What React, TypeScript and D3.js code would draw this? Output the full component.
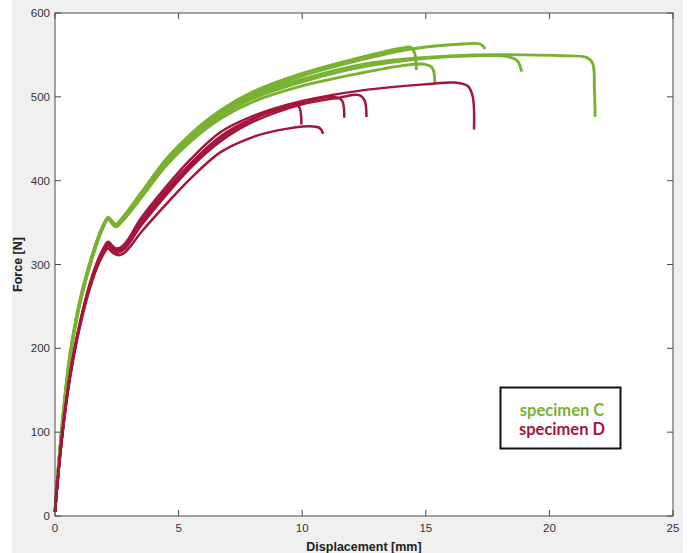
import React from 'react'
import * as d3 from 'd3'

// displacement [mm], force [N]
const specimenC: [number, number][][] = [
  [[0, 5], [0.1, 45], [0.3, 112], [0.6, 190], [1.0, 255], [1.5, 310], [1.9, 343], [2.15, 356], [2.3, 351], [2.45, 347], [2.7, 354], [3.5, 386], [4.5, 426], [5.5, 456], [6.7, 484], [8, 506], [10, 528], [12.5, 548], [14, 558], [14.4, 559], [14.55, 552], [14.62, 532]],
  [[0, 5], [0.1, 46], [0.3, 114], [0.6, 192], [1.0, 257], [1.5, 311], [1.9, 344], [2.15, 356], [2.3, 352], [2.45, 348], [2.7, 355], [3.5, 386], [4.5, 425], [5.5, 454], [6.7, 482], [8, 503], [10, 525], [12.5, 545], [14, 555], [15.5, 561], [16.5, 563], [17.2, 563], [17.4, 557]],
  [[0, 5], [0.1, 44], [0.3, 110], [0.6, 187], [1.0, 252], [1.5, 307], [1.9, 341], [2.15, 354], [2.3, 349], [2.45, 345], [2.7, 351], [3.5, 380], [4.5, 418], [5.5, 447], [6.7, 474], [8, 494], [10, 513], [12.5, 529], [14, 537], [14.9, 539], [15.25, 535], [15.37, 516]],
  [[0, 5], [0.1, 45], [0.3, 111], [0.6, 188], [1.0, 253], [1.5, 308], [1.9, 342], [2.15, 355], [2.3, 350], [2.45, 346], [2.7, 352], [3.5, 383], [4.5, 421], [5.5, 450], [6.7, 477], [8, 498], [10, 518], [12.5, 536], [15, 546], [17, 549], [18.3, 548], [18.7, 543], [18.88, 530]],
  [[0, 5], [0.1, 45], [0.3, 111], [0.6, 189], [1.0, 254], [1.5, 309], [1.9, 342], [2.15, 355], [2.3, 350], [2.45, 346], [2.7, 353], [3.5, 384], [4.5, 423], [5.5, 452], [6.7, 480], [8, 501], [10, 521], [12.5, 539], [15, 547], [17, 550], [19, 550], [20.5, 549], [21.5, 547], [21.75, 540], [21.82, 510], [21.85, 476]],
]

const specimenD: [number, number][][] = [
  [[0, 5], [0.1, 40], [0.3, 100], [0.6, 168], [1.0, 230], [1.5, 286], [1.9, 316], [2.15, 327], [2.3, 323], [2.5, 319], [2.8, 324], [3.5, 356], [4.5, 393], [5.5, 426], [6.7, 458], [8, 477], [10, 495], [12.5, 508], [15, 515], [16.2, 517], [16.7, 513], [16.9, 500], [16.95, 461]],
  [[0, 5], [0.1, 40], [0.3, 99], [0.6, 166], [1.0, 228], [1.5, 284], [1.9, 314], [2.15, 324], [2.3, 320], [2.5, 315], [2.8, 319], [3.5, 347], [4.5, 383], [5.5, 416], [6.7, 447], [8, 470], [10, 491], [11.5, 499], [12.3, 502], [12.52, 496], [12.6, 476]],
  [[0, 5], [0.1, 40], [0.3, 99], [0.6, 166], [1.0, 228], [1.5, 284], [1.9, 314], [2.15, 325], [2.3, 321], [2.5, 317], [2.8, 322], [3.5, 352], [4.5, 389], [5.5, 421], [6.7, 453], [8, 474], [10, 493], [11.2, 500], [11.6, 496], [11.7, 475]],
  [[0, 5], [0.1, 39], [0.3, 98], [0.6, 165], [1.0, 227], [1.5, 282], [1.9, 312], [2.15, 322], [2.3, 318], [2.5, 314], [2.8, 318], [3.5, 349], [4.5, 386], [5.5, 418], [6.7, 450], [8, 473], [9.5, 491], [9.85, 489], [9.97, 467]],
  [[0, 5], [0.1, 39], [0.3, 97], [0.6, 163], [1.0, 225], [1.5, 280], [1.9, 309], [2.15, 319], [2.3, 315], [2.55, 311], [2.85, 315], [3.5, 339], [4.5, 372], [5.5, 403], [6.7, 434], [8, 452], [9, 460], [10.3, 465], [10.7, 463], [10.85, 456]],
]

const xTicks = [0, 5, 10, 15, 20, 25]
const yTicks = [0, 100, 200, 300, 400, 500, 600]
const legendLabels = ['specimen C', 'specimen D']

const GREEN = '#79b131'
const RED = '#a5153b'

export default function App() {
  const left = 55, right = 673, top = 13, bottom = 516
  const x = d3.scaleLinear().domain([0, 25]).range([left, right])
  const y = d3.scaleLinear().domain([0, 600]).range([bottom, top])
  const line = d3.line<[number, number]>()
    .x(d => x(d[0]))
    .y(d => y(d[1]))
    .curve(d3.curveCatmullRom.alpha(0.5))

  const axisColor = '#4a4a4a'
  const tickFont = 'Liberation Sans, Arial, sans-serif'

  return (
    <svg width={688} height={553} style={{ position: 'absolute', left: 0, top: 0 }}>
      <rect x={0} y={0} width={688} height={553} fill="#fff" />
      <rect x={12} y={0} width={671} height={553} fill="#f0f0f0" />
      <rect x={left} y={top} width={right - left} height={bottom - top} fill="#fff" />

      {specimenC.map((d, i) => (
        <path key={'c' + i} d={line(d) || ''} fill="none" stroke={GREEN} strokeWidth={2.9} strokeLinejoin="round" />
      ))}
      {specimenD.map((d, i) => (
        <path key={'d' + i} d={line(d) || ''} fill="none" stroke={RED} strokeWidth={2.5} strokeLinejoin="round" />
      ))}

      {/* box + inward ticks */}
      <rect x={left} y={top} width={right - left} height={bottom - top} fill="none" stroke={axisColor} strokeWidth={1} />
      {xTicks.map(t => (
        <g key={'x' + t}>
          <line x1={x(t)} x2={x(t)} y1={bottom} y2={bottom - 6} stroke={axisColor} />
          <line x1={x(t)} x2={x(t)} y1={top} y2={top + 6} stroke={axisColor} />
          <text x={x(t)} y={bottom + 16} textAnchor="middle" fontSize={11.5} fontFamily={tickFont} fill="#333">{t}</text>
        </g>
      ))}
      {yTicks.map(t => (
        <g key={'y' + t}>
          <line x1={left} x2={left + 6} y1={y(t)} y2={y(t)} stroke={axisColor} />
          <line x1={right} x2={right - 6} y1={y(t)} y2={y(t)} stroke={axisColor} />
          <text x={left - 5} y={y(t) + 4} textAnchor="end" fontSize={11.5} fontFamily={tickFont} fill="#333">{t}</text>
        </g>
      ))}
      <text x={(left + right) / 2} y={551} textAnchor="middle" fontSize={12.5} fontWeight="bold" fontFamily={tickFont} fill="#222">Displacement [mm]</text>
      <text transform={`translate(22,${(top + bottom) / 2}) rotate(-90)`} textAnchor="middle" fontSize={12.5} fontWeight="bold" fontFamily={tickFont} fill="#222">Force [N]</text>

      {/* legend */}
      <rect x={500.5} y={387.5} width={120} height={61} fill="#fff" stroke="#111" strokeWidth={2} />
      {legendLabels.map((l, i) => (
        <text key={l} x={562} y={416 + i * 19} textAnchor="middle" fontSize={16.5} fontWeight="bold" fontFamily="Lato, Open Sans, sans-serif" fill={i === 0 ? GREEN : RED}>{l}</text>
      ))}
    </svg>
  )
}
